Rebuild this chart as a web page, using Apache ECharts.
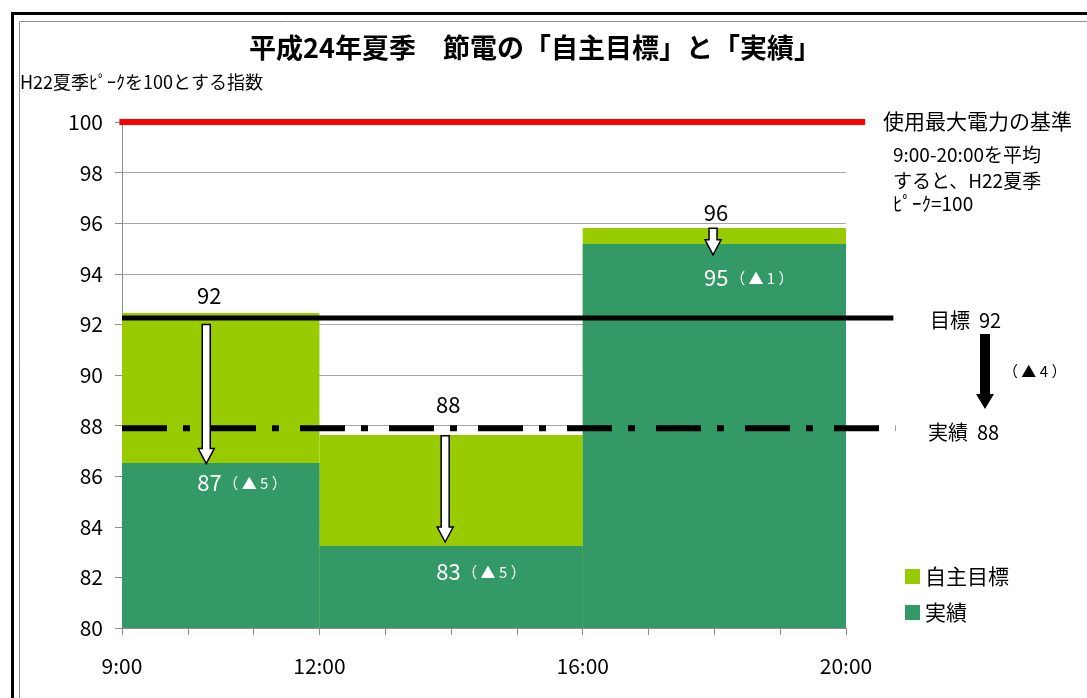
<!DOCTYPE html>
<html><head><meta charset="utf-8">
<script src="https://cdn.jsdelivr.net/npm/echarts@6/dist/echarts.min.js"></script>
<style>html,body{margin:0;padding:0;background:#fff}#c{width:1087px;height:698px}</style>
</head><body><div id="c"></div>
<script>
// ---- data ----
const periodStart = [9, 12, 16];
const periodEnd = [12, 16, 20];
const targetValues = [92.45, 87.63, 95.81];   // 自主目標
const actualValues = [86.52, 83.24, 95.18];   // 実績
const targetLabels = ['92', '88', '96'];
const actualLabels = ['87', '83', '95'];
const reductionLabels = ['（ ▲ 5 ）', '（ ▲ 5 ）', '（ ▲ 1 ）'];
const arrowHour = [10.28, 13.91, 17.98];
const arrowFrom = [92.0, 87.6, 95.8];
const arrowTo = [86.5, 83.4, 94.75];
const baseValue = 100;          // 使用最大電力の基準
const targetAverage = 92.25;    // 目標 92
const actualAverage = 87.9;     // 実績 88
const xTickLabels = {9: '9:00', 12: '12:00', 16: '16:00', 20: '20:00'};

// ---- layout (pixels) ----
const targetLabelLift = [17, 30, 15];
const actualLabelDrop = [20, 26, 34];
const FONT = '"Noto Sans CJK JP", "Noto Sans", sans-serif';

const chart = echarts.init(document.getElementById('c'), null, {renderer: 'canvas'});

function barRender(color) {
  return function (params, api) {
    const p0 = api.coord([api.value(0), api.value(2)]);
    const p1 = api.coord([api.value(1), 80]);
    return {type: 'rect', shape: {x: p0[0], y: p0[1], width: p1[0] - p0[0], height: p1[1] - p0[1]},
      style: {fill: color}};
  };
}

function hollowArrow(x, yTop, yTip, shaftHalf, headHalf, headLen) {
  return [[x - shaftHalf, yTop], [x + shaftHalf, yTop], [x + shaftHalf, yTip - headLen],
    [x + headHalf, yTip - headLen], [x, yTip], [x - headHalf, yTip - headLen],
    [x - shaftHalf, yTip - headLen]];
}

const option = {
  animation: false,
  grid: {left: 122, right: 241, top: 122, bottom: 70},
  xAxis: {
    type: 'value', min: 9, max: 20, interval: 1,
    axisLine: {show: true, lineStyle: {color: '#8c8c8c', width: 1}},
    axisTick: {show: true, length: 7, lineStyle: {color: '#8c8c8c'}},
    splitLine: {show: false},
    axisLabel: {formatter: v => xTickLabels[v] || '', color: '#000', fontSize: 21, fontFamily: FONT, margin: 28, showMinLabel: true, showMaxLabel: true}
  },
  yAxis: {
    type: 'value', min: 80, max: 100, interval: 2,
    axisLine: {show: true, lineStyle: {color: '#8c8c8c', width: 1}},
    axisTick: {show: true, length: 7, lineStyle: {color: '#8c8c8c'}},
    splitLine: {show: true, lineStyle: {color: '#a6a6a6', width: 1}},
    axisLabel: {color: '#000', fontSize: 21, fontFamily: FONT, margin: 19}
  },
  legend: {
    data: ['自主目標', '実績'], orient: 'vertical', left: 900, top: 561,
    itemWidth: 15, itemHeight: 15, itemGap: 15, icon: 'rect',
    textStyle: {fontSize: 21, color: '#000', fontFamily: FONT}
  },
  series: [
    {
      name: '自主目標', type: 'custom', itemStyle: {color: '#99CC00'},
      encode: {x: [0, 1], y: 2},
      data: periodStart.map((s, i) => [s, periodEnd[i], targetValues[i]]),
      renderItem: barRender('#99CC00'), z: 2
    },
    {
      name: '実績', type: 'custom', itemStyle: {color: '#339966'},
      encode: {x: [0, 1], y: 2},
      data: periodStart.map((s, i) => [s, periodEnd[i], actualValues[i]]),
      renderItem: barRender('#339966'), z: 3
    },
    {
      name: 'refLines', type: 'custom', z: 4, clip: false, silent: true,
      encode: {x: [0, 1], y: 2},
      data: [[8.96, 20.29, baseValue, 0], [9.0, 20.72, targetAverage, 1], [9.0, 20.75, actualAverage, 2]],
      renderItem: function (params, api) {
        const k = api.value(3);
        const a = api.coord([api.value(0), api.value(2)]);
        const b = api.coord([api.value(1), api.value(2)]);
        const styles = [
          {stroke: '#FF0000', lineWidth: 6},
          {stroke: '#000', lineWidth: 5},
          {stroke: '#000', lineWidth: 6, lineDash: [45, 16, 7, 21]}
        ];
        return {type: 'line', shape: {x1: a[0], y1: a[1], x2: b[0], y2: b[1]}, style: Object.assign({lineCap: 'butt'}, styles[k])};
      }
    },
    {
      name: 'arrows', type: 'custom', z: 5, clip: false, silent: true,
      encode: {x: 0, y: 1},
      data: arrowHour.map((h, i) => [h, arrowFrom[i], arrowTo[i]]),
      renderItem: function (params, api) {
        const i = params.dataIndex;
        const top = api.coord([api.value(0), api.value(1)]);
        const tip = api.coord([api.value(0), api.value(2)]);
        const tTop = api.coord([api.value(0), targetValues[i]]);
        const aTop = api.coord([api.value(0), actualValues[i]]);
        const x = top[0];
        return {type: 'group', children: [
          {type: 'polygon', shape: {points: hollowArrow(x, top[1], tip[1], 4, 8, 15)},
            style: {fill: '#fff', stroke: '#000', lineWidth: 1.5}},
          {type: 'text', x: x + 3, y: tTop[1] - targetLabelLift[i],
            style: {text: targetLabels[i], fill: '#000', fontSize: 22, fontFamily: FONT, align: 'center', verticalAlign: 'middle'}},
          {type: 'text', x: x - 9, y: aTop[1] + actualLabelDrop[i],
            style: {text: '{n|' + actualLabels[i] + '}{s| }{p|' + reductionLabels[i] + '}', align: 'left', verticalAlign: 'middle',
              rich: {n: {fontSize: 22, fill: '#fff', fontFamily: FONT}, s: {fontSize: 6}, p: {fontSize: 15, fill: '#fff', fontFamily: FONT}}}}
        ]};
      }
    }
  ],
  graphic: [
    {type: 'rect', left: 10, top: 11, shape: {width: 1095, height: 710}, style: {fill: 'none', stroke: '#000', lineWidth: 3}, z: 100},
    {type: 'rect', left: 17, top: 19, shape: {width: 1069, height: 700}, style: {fill: 'none', stroke: '#8c8c8c', lineWidth: 1}, z: 100},
    {type: 'text', x: 535, y: 48, style: {text: '平成24年夏季　節電の「自主目標」と「実績」', fontSize: 27, fontWeight: 'bold', fill: '#000', fontFamily: FONT, align: 'center', verticalAlign: 'middle'}},
    {type: 'text', x: 20, y: 82, style: {text: 'H22夏季ﾋﾟｰｸを100とする指数', fontSize: 18, fill: '#000', fontFamily: FONT, align: 'left', verticalAlign: 'middle'}},
    {type: 'text', x: 883, y: 121, style: {text: '使用最大電力の基準', fontSize: 21, fill: '#000', fontFamily: FONT, align: 'left', verticalAlign: 'middle'}},
    {type: 'text', x: 893, y: 155, style: {text: '9:00-20:00を平均', fontSize: 19, fill: '#000', fontFamily: FONT, align: 'left', verticalAlign: 'middle'}},
    {type: 'text', x: 893, y: 181, style: {text: 'すると、H22夏季', fontSize: 19, fill: '#000', fontFamily: FONT, align: 'left', verticalAlign: 'middle'}},
    {type: 'text', x: 893, y: 204, style: {text: 'ﾋﾟｰｸ=100', fontSize: 19, fill: '#000', fontFamily: FONT, align: 'left', verticalAlign: 'middle'}},
    {type: 'text', x: 930, y: 320, style: {text: '目標  92', fontSize: 20, fill: '#000', fontFamily: FONT, align: 'left', verticalAlign: 'middle'}},
    {type: 'text', x: 928, y: 432, style: {text: '実績  88', fontSize: 20, fill: '#000', fontFamily: FONT, align: 'left', verticalAlign: 'middle'}},
    {type: 'polygon', shape: {points: [[980, 334], [990, 334], [990, 394], [994, 394], [985, 409], [976, 394], [980, 394]]}, style: {fill: '#000'}},
    {type: 'text', x: 1003, y: 371, style: {text: '（ ▲ 4 ）', fontSize: 15, fill: '#000', fontFamily: FONT, align: 'left', verticalAlign: 'middle'}}
  ]
};
chart.setOption(option);
</script>
</body></html>
